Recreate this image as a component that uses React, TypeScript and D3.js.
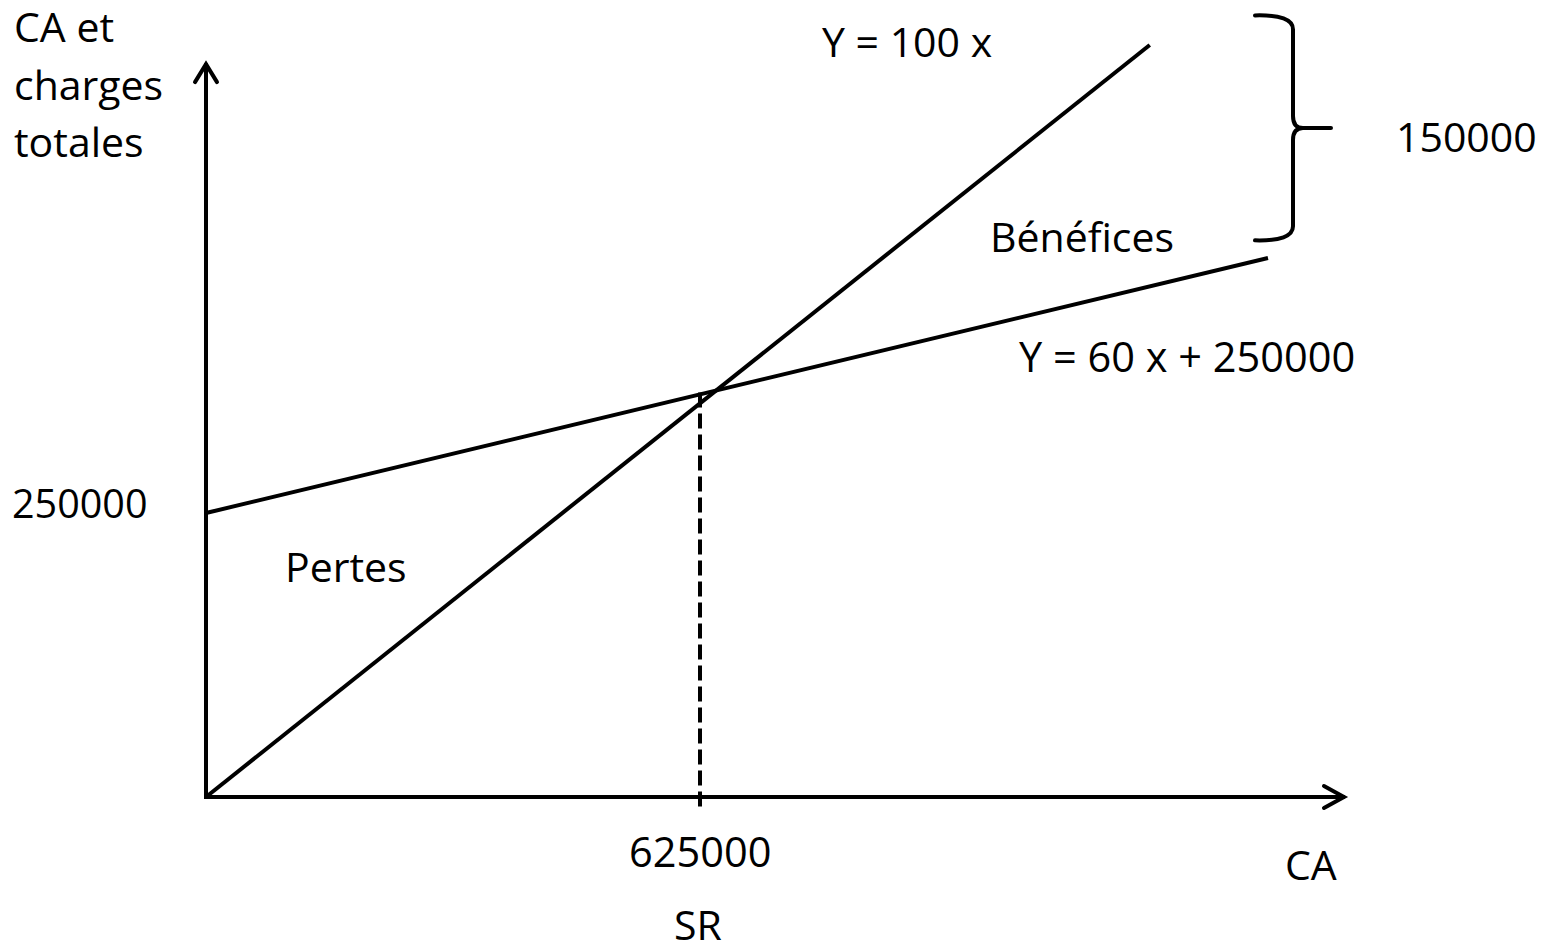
import { useEffect, useRef } from "react";
import * as d3 from "d3";

// break-even chart (seuil de rentabilité)
const W = 1550;
const H = 949;

const revenueLine: [number, number][] = [[0, 0], [1194000, 662000]];       // Y = 100 x
const costLine: [number, number][] = [[0, 250000], [1343600, 474500]];     // Y = 60 x + 250000
const breakEven = { x: 625000, yTop: 356000, yBottom: -13200 };
const axisMax = { x: 1441000, y: 646000 };
const profitBrace = { top: 688000, bottom: 490000 };

const FONT = "'Open Sans', sans-serif";

export default function App() {
  const svgRef = useRef<SVGSVGElement>(null);

  useEffect(() => {
    if (!svgRef.current) return;
    const svg = d3.select(svgRef.current);
    svg.selectAll("*").remove();

    const x = d3.scaleLinear().domain([0, 625000]).range([206, 700]);
    const y = d3.scaleLinear().domain([0, 250000]).range([797, 513]);

    const g = svg.append("g");
    const line = d3.line<[number, number]>().x(d => x(d[0])).y(d => y(d[1]));

    // ── axes ──────────────────────────────
    const x0 = x(0), y0 = y(0);
    const yt = y(axisMax.y), xt = x(axisMax.x);
    g.append("path")
      .attr("d", `M${x0},${yt} L${x0},${y0} L${xt},${y0}`)
      .attr("fill", "none").attr("stroke", "#000").attr("stroke-width", 4)
      .attr("stroke-linejoin", "miter");
    g.append("path")
      .attr("d", `M${x0 - 11},${yt + 19} L${x0},${yt + 1} L${x0 + 11},${yt + 19}`)
      .attr("fill", "none").attr("stroke", "#000").attr("stroke-width", 4)
      .attr("stroke-linecap", "round");
    g.append("path")
      .attr("d", `M${xt - 21},${y0 - 11} L${xt - 1},${y0} L${xt - 21},${y0 + 11}`)
      .attr("fill", "none").attr("stroke", "#000").attr("stroke-width", 4)
      .attr("stroke-linecap", "round");

    // ── lines ─────────────────────────────
    [revenueLine, costLine].forEach(pts => {
      g.append("path")
        .attr("d", line(pts)!)
        .attr("fill", "none").attr("stroke", "#000").attr("stroke-width", 4);
    });

    // break-even dashed
    g.append("line")
      .attr("x1", x(breakEven.x)).attr("x2", x(breakEven.x))
      .attr("y1", y(breakEven.yTop)).attr("y2", y(breakEven.yBottom))
      .attr("stroke", "#000").attr("stroke-width", 4)
      .attr("stroke-dasharray", "15 6");

    // ── brace ─────────────────────────────
    const bt = y(profitBrace.top), bb = y(profitBrace.bottom);
    const bm = (bt + bb) / 2;
    const bx = 1293, bl = 1255, tip = 1331;
    g.append("path")
      .attr("d",
        `M${bl},${bt} Q${bx},${bt - 1} ${bx},${bt + 14} L${bx},${bm - 12} Q${bx},${bm} ${bx + 10},${bm} L${tip},${bm}` +
        ` M${bx + 10},${bm} Q${bx},${bm} ${bx},${bm + 12} L${bx},${bb - 14} Q${bx},${bb + 1} ${bl},${bb}`)
      .attr("fill", "none").attr("stroke", "#000").attr("stroke-width", 4)
      .attr("stroke-linecap", "round");

    // ── labels ────────────────────────────
    const labels: [string, number, number, number][] = [
      ["CA et", 14, 42, 41],
      ["charges", 14, 100, 41],
      ["totales", 14, 157, 41],
      ["Y = 100 x", 822, 57, 41],
      ["Y = 60 x + 250000", 1019, 372, 41.5],
      ["Bénéfices", 990, 252, 41],
      ["Pertes", 285, 582, 41],
      ["250000", 12, 518, 39.5],
      ["625000", 629, 867, 41.5],
      ["SR", 674, 940, 41],
      ["CA", 1285, 880, 41],
      ["150000", 1396, 152, 41],
    ];
    labels.forEach(([t, lx, ly, fs]) => {
      g.append("text")
        .attr("x", lx).attr("y", ly)
        .attr("fill", "#000")
        .attr("font-size", `${fs}px`)
        .style("font-family", FONT)
        .text(t);
    });
  }, []);

  return (
    <svg ref={svgRef} width={W} height={H}
      style={{ position: "absolute", left: 0, top: 0, background: "#fff" }} />
  );
}
